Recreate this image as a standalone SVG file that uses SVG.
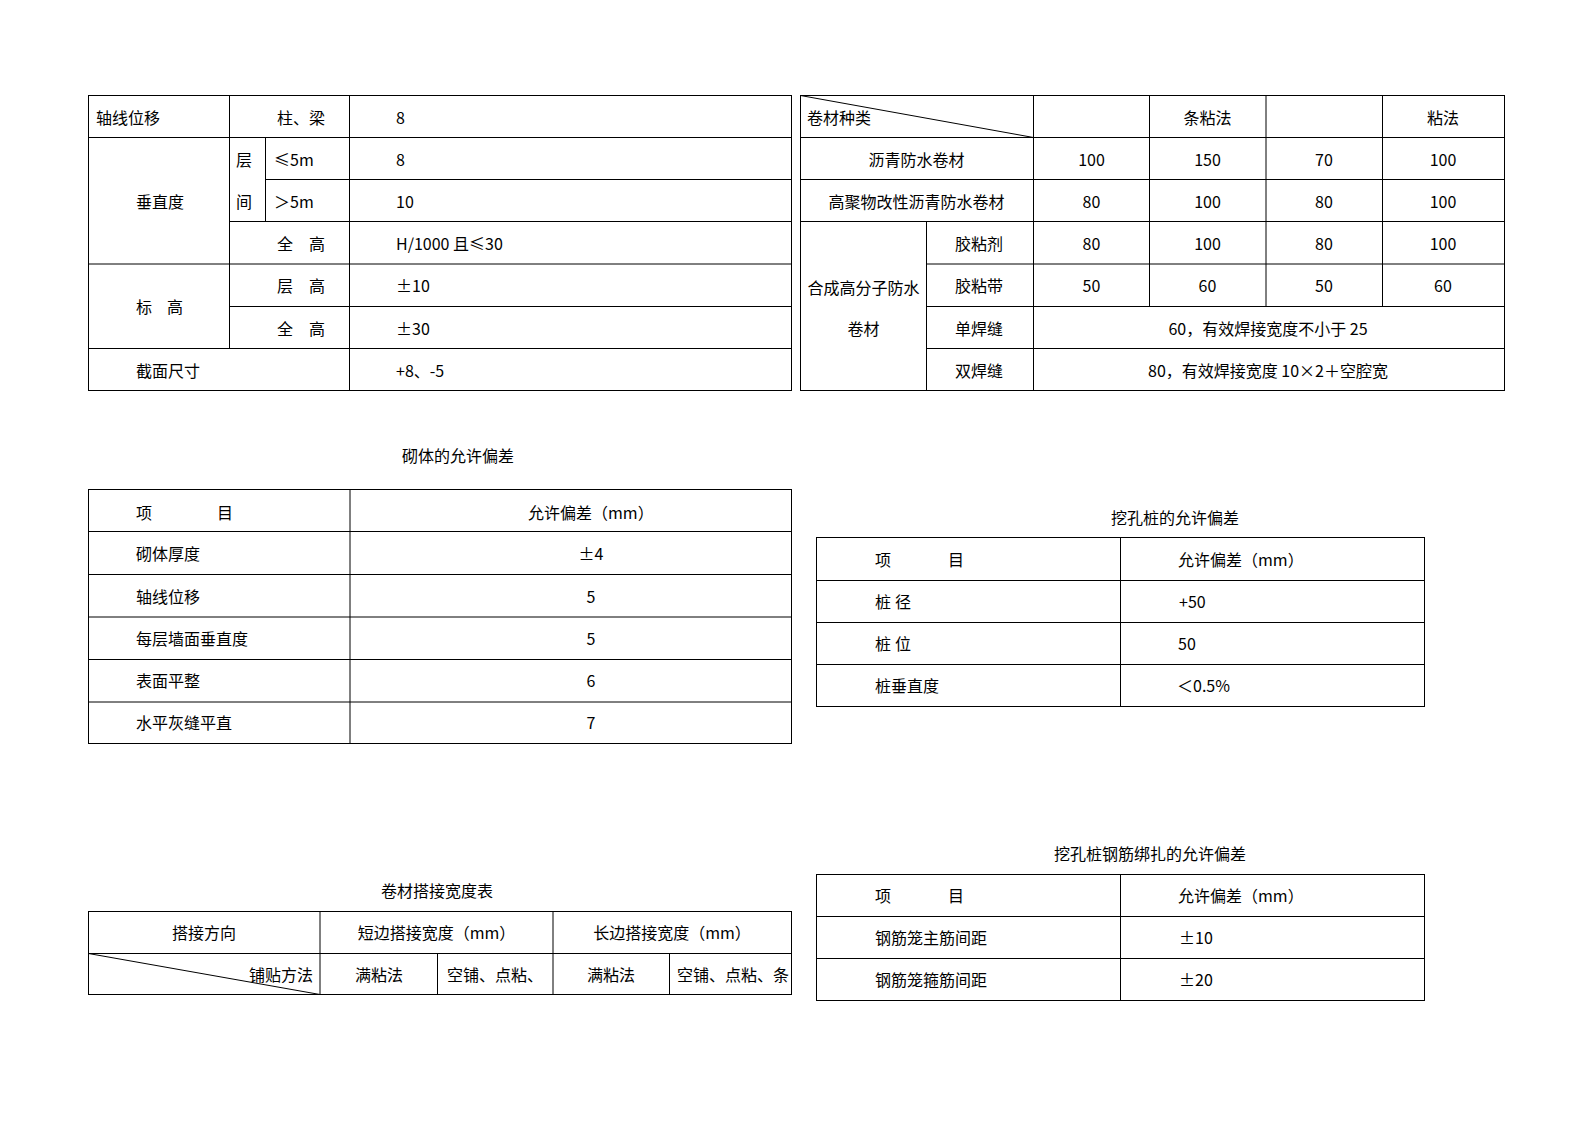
<svg xmlns="http://www.w3.org/2000/svg" width="1588" height="1123" viewBox="0 0 1588 1123">
<style>
.t{font-family:"Noto Sans CJK SC","Noto Sans",sans-serif;font-size:16px;fill:#000}
.m{text-anchor:middle}
.ln{stroke:#000;stroke-width:1;fill:none}
</style>
<rect width="1588" height="1123" fill="#fff"/>

<g id="table-axis">
<rect class="ln" x="88.5" y="95.5" width="703" height="295"/>
<path class="ln" d="M88.5 137.5H791.5 M265.5 179.5H791.5 M229.5 221.5H791.5 M88.5 264H791.5 M229.5 306.5H791.5 M88.5 348.5H791.5 M229.5 95.5V348.5 M265.5 137.5V221.5 M349.5 95.5V390.5"/>
<text class="t" x="96" y="123.5">轴线位移</text>
<text class="t" x="277" y="123.5">柱、梁</text>
<text class="t" x="396" y="123.5">8</text>
<text class="t" x="136" y="207.5">垂直度</text>
<text class="t" x="236" y="165.5">层</text>
<text class="t" x="236" y="207.5">间</text>
<text class="t" x="274" y="165.5">≤5m</text>
<text class="t" x="396" y="165.5">8</text>
<text class="t" x="274" y="207.5">＞5m</text>
<text class="t" x="396" y="207.5">10</text>
<text class="t" x="277" y="249.5">全</text>
<text class="t" x="309" y="249.5">高</text>
<text class="t" x="396" y="249.5">H/1000 且≤30</text>
<text class="t" x="136" y="313">标</text>
<text class="t" x="167" y="313">高</text>
<text class="t" x="277" y="292">层</text>
<text class="t" x="309" y="292">高</text>
<text class="t" x="396" y="292">±10</text>
<text class="t" x="277" y="334.5">全</text>
<text class="t" x="309" y="334.5">高</text>
<text class="t" x="396" y="334.5">±30</text>
<text class="t" x="136" y="376.5">截面尺寸</text>
<text class="t" x="396" y="376.5">+8、-5</text>
</g>

<g id="table-membrane-overlap">
<rect class="ln" x="800.5" y="95.5" width="704" height="295"/>
<path class="ln" d="M800.5 137.5H1504.5 M800.5 179.5H1504.5 M800.5 221.5H1504.5 M926.5 264H1504.5 M926.5 306.5H1504.5 M926.5 348.5H1504.5 M926.5 221.5V390.5 M1033.5 95.5V390.5 M1149.5 95.5V306.5 M1266 95.5V306.5 M1382.5 95.5V306.5 M800.5 95.5L1033.5 137.5"/>
<text class="t" x="807" y="123.5">卷材种类</text>
<text class="t m" x="1207.5" y="123.5">条粘法</text>
<text class="t m" x="1443" y="123.5">粘法</text>
<text class="t m" x="916.5" y="165.5">沥青防水卷材</text>
<text class="t m" x="1091.5" y="165.5">100</text>
<text class="t m" x="1207.5" y="165.5">150</text>
<text class="t m" x="1324" y="165.5">70</text>
<text class="t m" x="1443" y="165.5">100</text>
<text class="t m" x="916.5" y="207.5">高聚物改性沥青防水卷材</text>
<text class="t m" x="1091.5" y="207.5">80</text>
<text class="t m" x="1207.5" y="207.5">100</text>
<text class="t m" x="1324" y="207.5">80</text>
<text class="t m" x="1443" y="207.5">100</text>
<text class="t" x="955" y="249.5">胶粘剂</text>
<text class="t m" x="1091.5" y="249.5">80</text>
<text class="t m" x="1207.5" y="249.5">100</text>
<text class="t m" x="1324" y="249.5">80</text>
<text class="t m" x="1443" y="249.5">100</text>
<text class="t" x="955" y="292">胶粘带</text>
<text class="t m" x="1091.5" y="292">50</text>
<text class="t m" x="1207.5" y="292">60</text>
<text class="t m" x="1324" y="292">50</text>
<text class="t m" x="1443" y="292">60</text>
<text class="t" x="955" y="334.5">单焊缝</text>
<text class="t m" x="1268" y="334.5">60，有效焊接宽度不小于 25</text>
<text class="t" x="955" y="376.5">双焊缝</text>
<text class="t m" x="1268" y="376.5">80，有效焊接宽度 10×2＋空腔宽</text>
<text class="t m" x="863.5" y="293.5">合成高分子防水</text>
<text class="t m" x="863.5" y="334.5">卷材</text>
</g>

<g id="table-masonry">
<text class="t" x="402" y="461.5">砌体的允许偏差</text>
<rect class="ln" x="88.5" y="489.5" width="703" height="254"/>
<path class="ln" d="M88.5 531.5H791.5 M88.5 574.5H791.5 M88.5 617H791.5 M88.5 659.5H791.5 M88.5 702H791.5 M350 489.5V743.5"/>
<text class="t" x="136" y="518.5">项</text>
<text class="t" x="217" y="518.5">目</text>
<text class="t" x="528" y="518.5">允许偏差（mm）</text>
<text class="t" x="136" y="560">砌体厚度</text>
<text class="t m" x="591" y="560">±4</text>
<text class="t" x="136" y="602.5">轴线位移</text>
<text class="t m" x="591" y="602.5">5</text>
<text class="t" x="136" y="645">每层墙面垂直度</text>
<text class="t m" x="591" y="645">5</text>
<text class="t" x="136" y="687">表面平整</text>
<text class="t m" x="591" y="687">6</text>
<text class="t" x="136" y="729">水平灰缝平直</text>
<text class="t m" x="591" y="729">7</text>
</g>

<g id="table-pile">
<text class="t" x="1111" y="523.5">挖孔桩的允许偏差</text>
<rect class="ln" x="816.5" y="537.5" width="608" height="169"/>
<path class="ln" d="M816.5 580.5H1424.5 M816.5 622.5H1424.5 M816.5 664.5H1424.5 M1120.5 537.5V706.5"/>
<text class="t" x="875" y="565.5">项</text>
<text class="t" x="948" y="565.5">目</text>
<text class="t" x="1178" y="565.5">允许偏差（mm）</text>
<text class="t" x="875" y="607.5">桩</text>
<text class="t" x="895" y="607.5">径</text>
<text class="t" x="1179" y="607.5">+50</text>
<text class="t" x="875" y="649.5">桩</text>
<text class="t" x="895" y="649.5">位</text>
<text class="t" x="1178" y="649.5">50</text>
<text class="t" x="875" y="691.5">桩垂直度</text>
<text class="t" x="1177" y="691.5">＜0.5%</text>
</g>

<g id="table-overlap-width">
<text class="t" x="381" y="896.5">卷材搭接宽度表</text>
<rect class="ln" x="88.5" y="911.5" width="703" height="83"/>
<path class="ln" d="M88.5 953.5H791.5 M320 911.5V994.5 M553 911.5V994.5 M437.5 953.5V994.5 M669.5 953.5V994.5 M88.5 953.5L320 994.5"/>
<text class="t m" x="204" y="939">搭接方向</text>
<text class="t m" x="436.5" y="939">短边搭接宽度（mm）</text>
<text class="t m" x="672" y="939">长边搭接宽度（mm）</text>
<text class="t" x="249" y="980.5">铺贴方法</text>
<text class="t m" x="379" y="980.5">满粘法</text>
<text class="t" x="447" y="980.5">空铺、点粘、</text>
<text class="t m" x="611" y="980.5">满粘法</text>
<text class="t" x="677" y="980.5">空铺、点粘、条</text>
</g>

<g id="table-rebar">
<text class="t" x="1054" y="860">挖孔桩钢筋绑扎的允许偏差</text>
<rect class="ln" x="816.5" y="874.5" width="608" height="126"/>
<path class="ln" d="M816.5 916.5H1424.5 M816.5 958.5H1424.5 M1120.5 874.5V1000.5"/>
<text class="t" x="875" y="901.5">项</text>
<text class="t" x="948" y="901.5">目</text>
<text class="t" x="1178" y="901.5">允许偏差（mm）</text>
<text class="t" x="875" y="943.5">钢筋笼主筋间距</text>
<text class="t" x="1179" y="943.5">±10</text>
<text class="t" x="875" y="985.5">钢筋笼箍筋间距</text>
<text class="t" x="1179" y="985.5">±20</text>
</g>

<g id="connectors"></g>
</svg>
